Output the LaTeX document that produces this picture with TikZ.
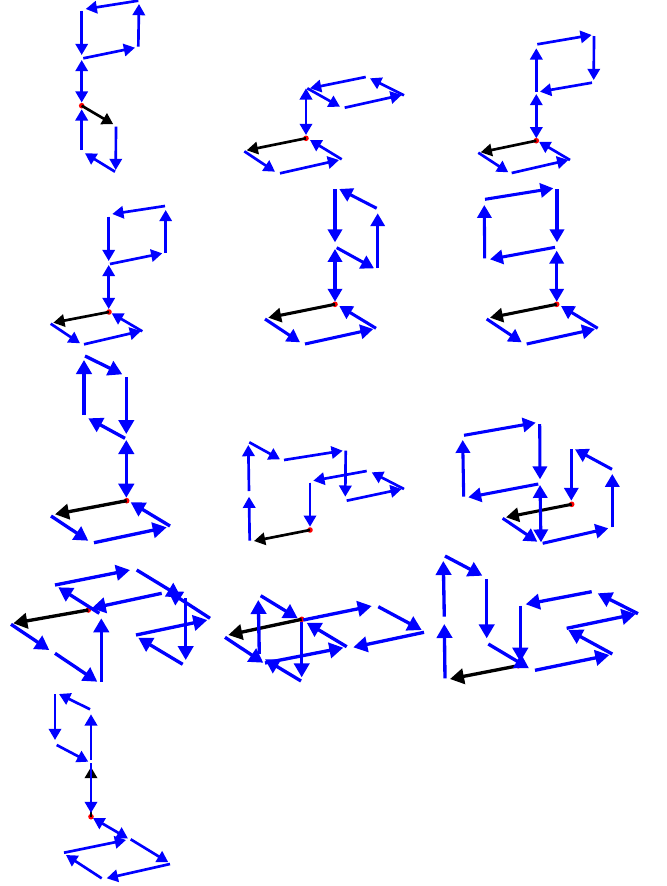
\documentclass[tikz,border=0pt]{standalone}
\usepackage{xcolor}
\usepackage{tikz}
\usetikzlibrary{arrows.meta}
\definecolor{VecBlue}{RGB}{0,0,255}
\definecolor{OriginRed}{RGB}{255,0,0}

\begin{document}
\begin{tikzpicture}[
  x=0.75pt,
  y=-0.75pt,
  vec/.style={-{Triangle[length=0pt 4.2,width=0pt 4.6]}, draw=VecBlue, fill=VecBlue},
  sync/.style={{Triangle[length=0pt 4.2,width=0pt 4.6]}-{Triangle[length=0pt 4.2,width=0pt 4.6]}, draw=VecBlue, fill=VecBlue},
  first/.style={-{Triangle[length=0pt 4.2,width=0pt 4.6]}, draw=black, fill=black},
  origin/.style={circle, fill=OriginRed, inner sep=0pt, minimum size=4.2pt},
  small/.style={line width=2pt},
  medium/.style={line width=2.3pt},
  large/.style={line width=2.5pt}
]
\useasboundingbox (0,0) rectangle (667,886);

% row 1
\begin{scope}[small]
\node[origin] (o1) at (81.7,105.7) {};
\draw[first] (o1.center) -- (113.3,124.3);
\draw[vec] (81.7,150) -- (81.7,109.3);
\draw[vec] (115,171.7) -- (85,153.3);
\draw[vec] (116,126.7) -- (115.7,170);
\draw[sync] (81.7,60) -- (81.7,102.5);
\draw[vec] (83.3,58.3) -- (135,47.7);
\draw[vec] (138.3,46.7) -- (139,4);
\draw[vec] (138.3,0.7) -- (85.7,9);
\draw[vec] (81.7,10.7) -- (81.7,55);
\end{scope}

\begin{scope}[small]
\node[origin] (o2) at (306,138.3) {};
\draw[first] (o2.center) -- (246.7,150.3);
\draw[vec] (244.3,151.3) -- (275,171.7);
\draw[vec] (280,173.3) -- (339,160);
\draw[vec] (341.7,159.3) -- (310,140);
\draw[sync] (306,88.3) -- (306,135);
\draw[vec] (307.3,88.3) -- (340,106.7);
\draw[vec] (344.7,107.7) -- (401.7,95);
\draw[vec] (404,95.3) -- (370,78.3);
\draw[vec] (365.7,77) -- (310,88.3);
\end{scope}

\begin{scope}[small]
\node[origin] (o3) at (536.3,140.7) {};
\draw[first] (o3.center) -- (480.7,152.3);
\draw[vec] (478.3,152.7) -- (508.3,172.3);
\draw[vec] (511.7,173) -- (568.3,160);
\draw[vec] (570,160) -- (539,141.7);
\draw[sync] (536.3,94) -- (536.3,138.3);
\draw[vec] (536.3,91.7) -- (536.3,48.3);
\draw[vec] (537.3,44.3) -- (591.7,35);
\draw[vec] (594,36) -- (593.7,80);
\draw[vec] (592,82.7) -- (540,91.7);
\end{scope}

% row 2
\begin{scope}[small]
\node[origin] (o4) at (109,312) {};
\draw[first] (o4.center) -- (53.3,322.7);
\draw[vec] (50.7,323.7) -- (80,343.3);
\draw[vec] (84,344.3) -- (141,331);
\draw[vec] (142.3,331.3) -- (111.7,313.3);
\draw[sync] (108.7,265) -- (108.7,309);
\draw[vec] (110,264) -- (162.3,253.3);
\draw[vec] (165.7,252.7) -- (165.7,210);
\draw[vec] (165,206) -- (112.3,214);
\draw[vec] (108.7,216.7) -- (108.7,261);
\end{scope}

\begin{scope}[medium]
\node[origin] (o5) at (335,304.3) {};
\draw[first] (o5.center) -- (268.3,317.7);
\draw[vec] (265,319) -- (300,342.3);
\draw[vec] (305,344) -- (373.3,329);
\draw[vec] (376,328.3) -- (339.3,306);
\draw[sync] (335,249) -- (335,301.7);
\draw[vec] (336.7,247.7) -- (374,268.3);
\draw[vec] (377.7,268.3) -- (377.7,213.3);
\draw[vec] (376.7,208.3) -- (339.3,189);
\draw[vec] (335,189) -- (335,242.3);
\end{scope}

\begin{scope}[medium]
\node[origin] (o6) at (556.7,304.3) {};
\draw[first] (o6.center) -- (490,317.7);
\draw[vec] (486.7,319) -- (521.7,342.3);
\draw[vec] (526.7,344) -- (595,329);
\draw[vec] (597.7,328.3) -- (561,306);
\draw[sync] (556.7,250.7) -- (556.7,301.7);
\draw[vec] (555,247.3) -- (490,259.3);
\draw[vec] (484.7,258.3) -- (484.3,205);
\draw[vec] (485,199.3) -- (553.3,188.3);
\draw[vec] (557,189) -- (557,242.3);
\end{scope}

% row 3
\begin{scope}[large]
\node[origin] (o7) at (126.7,500.7) {};
\draw[first] (o7.center) -- (55,514.3);
\draw[vec] (51,516) -- (88.3,540.7);
\draw[vec] (94,542.7) -- (166.7,527.3);
\draw[vec] (170,526) -- (130.7,502.3);
\draw[sync] (126.3,440) -- (126.3,497.7);
\draw[vec] (125,438.3) -- (88.3,418.3);
\draw[vec] (84,415) -- (84,360);
\draw[vec] (85,356) -- (122.3,374.3);
\draw[vec] (126.3,377.3) -- (126.3,434);
\end{scope}

\begin{scope}[small]
\node[origin] (o8) at (310,530) {};
\draw[first] (o8.center) -- (254,541);
\draw[vec] (249.7,540.7) -- (249,496.7);
\draw[vec] (249,491) -- (248.3,445);
\draw[vec] (249.3,442.3) -- (280,459.3);
\draw[vec] (284,460) -- (342.7,450.7);
\draw[vec] (345.7,450.7) -- (345.3,496.7);
\draw[vec] (346.7,500.7) -- (401.7,489);
\draw[vec] (404,489) -- (371.7,472.3);
\draw[vec] (366.7,471) -- (313.3,480.7);
\draw[vec] (310,482.7) -- (310,526.7);
\end{scope}

\begin{scope}[medium]
\node[origin] (o9) at (571.7,504.3) {};
\draw[first] (o9.center) -- (506,517.3);
\draw[vec] (502.7,518.3) -- (537.3,541.7);
\draw[sync] (540,485) -- (541,542.3);
\draw[vec] (542.7,543.3) -- (608.3,528.3);
\draw[vec] (612.3,527.3) -- (612.3,474);
\draw[vec] (612,469.3) -- (575,449.3);
\draw[vec] (571.3,449.3) -- (571.3,500.7);
\draw[vec] (538.3,484) -- (468.3,497.3);
\draw[vec] (463.7,496.7) -- (462.7,440);
\draw[vec] (464,435.3) -- (535.7,422.7);
\draw[vec] (539.7,424) -- (540,479.3);
\end{scope}

% row 4
\begin{scope}[large]
\node[origin] (o10) at (88.3,610) {};
\draw[first] (o10.center) -- (13.3,623.3);
\draw[vec] (11,624.3) -- (49.3,650);
\draw[vec] (55,653.3) -- (97.3,681.7);
\draw[vec] (101.3,681.7) -- (101.3,618.3);
\draw[vec] (99.3,613.3) -- (58.3,587.3);
\draw[vec] (55,585) -- (130,570);
\draw[vec] (136.7,570) -- (181,597);
\draw[vec] (185.7,598.3) -- (185.7,660);
\draw[vec] (182.7,664.3) -- (138.3,637.7);
\draw[vec] (136,635) -- (207.3,620);
\draw[vec] (210,618.3) -- (168,591);
\draw[vec] (161.7,593.3) -- (91.7,608.3);
\end{scope}

\begin{scope}[large]
\node[origin] (o11) at (301.7,619.3) {};
\draw[first] (o11.center) -- (228.3,635);
\draw[vec] (225,637.3) -- (263.3,662.7);
\draw[vec] (259.3,654) -- (258.3,600);
\draw[vec] (260.7,595.7) -- (297.7,618.3);
\draw[vec] (301.7,621.7) -- (301.7,677.3);
\draw[vec] (301,681) -- (265,659.3);
\draw[vec] (265,663) -- (343.3,647.7);
\draw[vec] (346.7,646.7) -- (306.7,622.7);
\draw[vec] (303.3,620) -- (371.7,606);
\draw[vec] (378.3,606.7) -- (421.7,630);
\draw[vec] (424,632.3) -- (353.3,647.3);
\end{scope}

\begin{scope}[large]
\node[origin] (o12) at (518.3,665.7) {};
\draw[first] (o12.center) -- (450,679);
\draw[vec] (445,678.3) -- (444.3,624);
\draw[vec] (444.3,616.7) -- (443.3,561);
\draw[vec] (445,556) -- (482.3,575.7);
\draw[vec] (486.7,579.3) -- (486.7,638.3);
\draw[vec] (488.3,644) -- (529,668.3);
\draw[vec] (535,670.3) -- (609.3,655);
\draw[vec] (612.3,654) -- (568.3,630);
\draw[vec] (566.7,628.3) -- (635.7,614);
\draw[vec] (638,613.7) -- (597.7,593.3);
\draw[vec] (591.7,591.7) -- (525.7,604.3);
\draw[vec] (520.3,605.7) -- (520.3,661.7);
\end{scope}

% row 5
\begin{scope}[small]
\node[origin] (o13) at (91,816.7) {};
\draw[first] (o13.center) -- (91,767);
\draw[vec] (91,763.3) -- (91,813);
\draw[vec] (91,760) -- (91,714.3);
\draw[vec] (90,709.3) -- (59,694);
\draw[vec] (55,694) -- (55,740);
\draw[vec] (56.7,745) -- (88.3,761.7);
\draw[sync] (93,818) -- (128,838.5);
\draw[vec] (130.7,839.3) -- (168.3,862.3);
\draw[vec] (170,864) -- (106.7,878.3);
\draw[vec] (101.7,878.3) -- (66,855);
\draw[vec] (64,852.7) -- (126,840);
\end{scope}
\end{tikzpicture}
\end{document}
